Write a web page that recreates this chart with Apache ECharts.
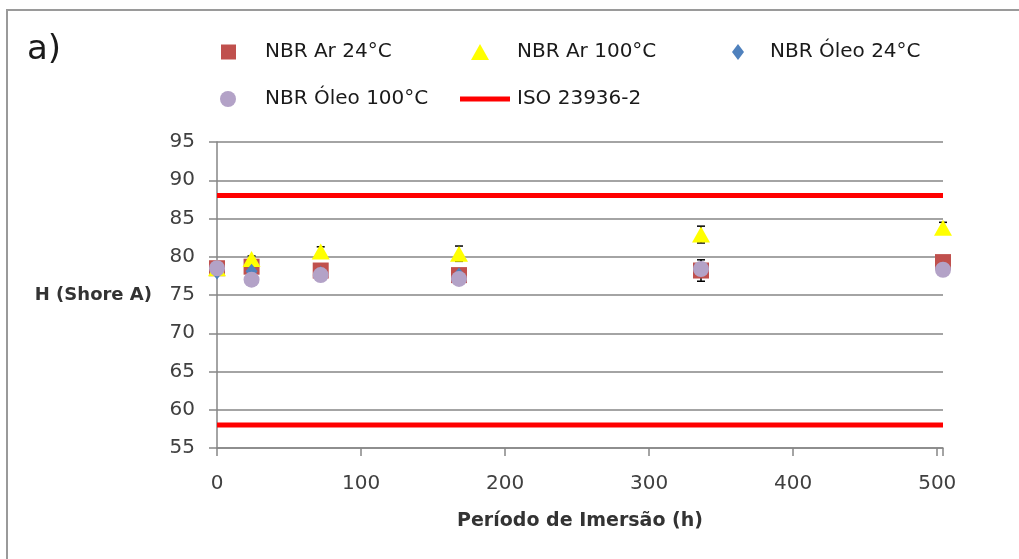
<!DOCTYPE html>
<html>
<head>
<meta charset="utf-8">
<script src="https://cdn.jsdelivr.net/npm/echarts@6/dist/echarts.min.js"></script>
<style>
html,body{margin:0;padding:0;background:#fff;overflow:hidden;}
#c{width:1019px;height:559px;}
</style>
</head>
<body>
<div id="c"></div>
<script>
// ---- data ----
const hours = [0, 24, 72, 168, 336, 504];
const nbrAr24 = [78.5, 78.7, 78.2, 77.6, 78.2, 79.3];
const nbrAr100 = [78.5, 79.7, 80.7, 80.4, 82.9, 83.8];
const nbrOleo24 = [78.0, 78.1, 77.8, 77.6, 78.3, 78.4];
const nbrOleo100 = [78.5, 77.0, 77.6, 77.1, 78.4, 78.3];
const nbrAr100Err = [0, 0.4, 0.6, 1.0, 1.1, 0.7];
const nbrAr24Err = [0, 0, 0, 0, 1.4, 0];
const isoUpper = 88;
const isoLower = 58;
const xTicks = [0, 100, 200, 300, 400, 500];
const yTicks = [55, 60, 65, 70, 75, 80, 85, 90, 95];

const FONT = 'DejaVu Sans';
const pts = (ys) => hours.map((h, i) => [h, ys[i]]);
const errPts = (ys, es) => hours.map((h, i) => [h, ys[i], es[i]]);

function errRender(params, api) {
  const x = api.value(0), y = api.value(1), e = api.value(2);
  if (!e) return null;
  const top = api.coord([x, y + e]);
  const bot = api.coord([x, y - e]);
  const w = 4;
  const st = {stroke: '#000', lineWidth: 1.5};
  return {
    type: 'group',
    children: [
      {type: 'line', shape: {x1: top[0], y1: top[1], x2: bot[0], y2: bot[1]}, style: st},
      {type: 'line', shape: {x1: top[0] - w, y1: top[1], x2: top[0] + w, y2: top[1]}, style: st},
      {type: 'line', shape: {x1: bot[0] - w, y1: bot[1], x2: bot[0] + w, y2: bot[1]}, style: st}
    ]
  };
}

const legendText = (pad) => ({fontFamily: FONT, fontSize: 20, color: '#1a1a1a', padding: [0, 0, 0, pad]});
const lg = (left, top, w, h, name, icon, pad) => ({
  left: left, top: top, padding: 0, itemWidth: w, itemHeight: h, selectedMode: false,
  data: [{name: name, icon: icon}], textStyle: legendText(pad)
});

const chart = echarts.init(document.getElementById('c'), null, {renderer: 'canvas'});
chart.setOption({
  animation: false,
  backgroundColor: '#fff',
  graphic: [
    {type: 'rect', shape: {x: 6, y: 9, width: 2, height: 560}, style: {fill: '#9a9a9a'}, silent: true},
    {type: 'rect', shape: {x: 6, y: 9, width: 1030, height: 2}, style: {fill: '#9a9a9a'}, silent: true},
    {type: 'text', left: 27, top: 33, style: {text: 'a)', fontFamily: FONT, fontSize: 34, fill: '#1a1a1a'}}
  ],
  grid: {left: 217, right: 76, top: 142, bottom: 111},
  legend: [
    lg(221, 42, 15, 15, 'NBR Ar 24°C', 'rect', 24),
    lg(471, 42, 18, 16, 'NBR Ar 100°C', 'triangle', 23),
    lg(732, 42, 12, 16, 'NBR Óleo 24°C', 'diamond', 21),
    lg(220, 89, 16, 16, 'NBR Óleo 100°C', 'circle', 24),
    lg(460, 89, 50, 5, 'ISO 23936-2', 'rect', 2)
  ],
  xAxis: {
    type: 'value', min: 0, max: 504, interval: 100,
    name: 'Período de Imersão (h)', nameLocation: 'middle', nameGap: 64,
    nameTextStyle: {fontFamily: FONT, fontSize: 19, fontWeight: 'bold', color: '#333'},
    axisLine: {show: true, lineStyle: {color: '#868686', width: 1.5}},
    axisTick: {show: true, length: 8, lineStyle: {color: '#868686', width: 1.5}},
    axisLabel: {fontFamily: FONT, fontSize: 20, color: '#404040', margin: 26,
      formatter: (v) => xTicks.includes(v) ? String(v) : ''},
    splitLine: {show: false}
  },
  yAxis: {
    type: 'value', min: 55, max: 95, interval: 5,
    name: 'H (Shore A)', nameLocation: 'middle', nameRotate: 0, nameGap: 65,
    nameTextStyle: {fontFamily: FONT, fontSize: 18, fontWeight: 'bold', color: '#333'},
    axisLine: {show: true, lineStyle: {color: '#868686', width: 1.5}},
    axisTick: {show: true, length: 8, lineStyle: {color: '#868686', width: 1.5}},
    axisLabel: {fontFamily: FONT, fontSize: 20, color: '#404040', margin: 22,
      formatter: (v) => yTicks.includes(v) ? String(v) : ''},
    splitLine: {show: true, lineStyle: {color: '#868686', width: 1.5}}
  },
  series: [
    {name: 'ISO 23936-2', type: 'line', data: [[0, isoUpper], [504, isoUpper]], symbol: 'none',
      lineStyle: {color: '#ff0000', width: 5}, itemStyle: {color: '#ff0000'}, z: 2},
    {name: 'ISO 23936-2', type: 'line', data: [[0, isoLower], [504, isoLower]], symbol: 'none',
      lineStyle: {color: '#ff0000', width: 5}, itemStyle: {color: '#ff0000'}, z: 2},
    {name: 'NBR Ar 24°C err', type: 'custom', renderItem: errRender, data: errPts(nbrAr24, nbrAr24Err), z: 2.5},
    {name: 'NBR Ar 100°C err', type: 'custom', renderItem: errRender, data: errPts(nbrAr100, nbrAr100Err), z: 2.5},
    {name: 'NBR Ar 24°C', type: 'scatter', symbol: 'rect', symbolSize: 16, data: pts(nbrAr24),
      itemStyle: {color: '#c0504d', opacity: 1}, z: 3},
    {name: 'NBR Ar 100°C', type: 'scatter', symbol: 'triangle', symbolSize: [18, 16], data: pts(nbrAr100),
      itemStyle: {color: '#ffff00', opacity: 1}, z: 3},
    {name: 'NBR Óleo 24°C', type: 'scatter', symbol: 'diamond', symbolSize: [12, 15], data: pts(nbrOleo24),
      itemStyle: {color: '#4f81bd', opacity: 1}, z: 3},
    {name: 'NBR Óleo 100°C', type: 'scatter', symbol: 'circle', symbolSize: 16, data: pts(nbrOleo100),
      itemStyle: {color: '#b3a2c7', opacity: 1}, z: 3}
  ]
});
</script>
</body>
</html>
